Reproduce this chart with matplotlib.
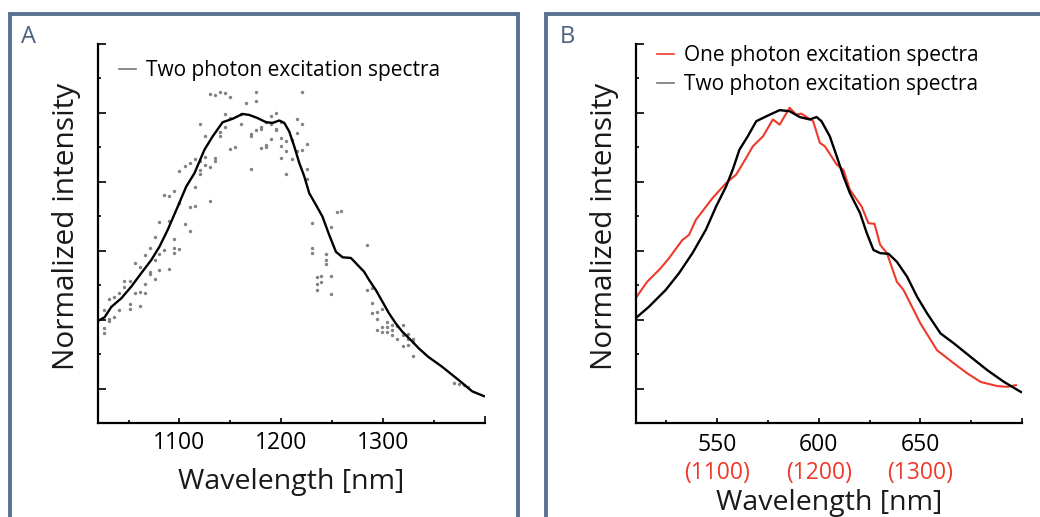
import numpy as np
import matplotlib
matplotlib.use('Agg')
import matplotlib.pyplot as plt
from matplotlib.lines import Line2D
from matplotlib.patches import Rectangle

plt.rcParams['font.family'] = ['Open Sans', 'DejaVu Sans']

# ---- data ----
# panel A, black two photon curve (nm, normalized)
tp_wl = [1021.6, 1026.5, 1033.1, 1042.9, 1052.7, 1062.5, 1072.3, 1080.4, 1088.5, 1098.3,
         1106.6, 1114.7, 1124.5, 1132.6, 1142.4, 1152.2, 1162.0, 1168.6, 1176.7, 1185.0,
         1191.4, 1198.0, 1202.9, 1207.8, 1212.7, 1217.6, 1222.5, 1227.4, 1234.0, 1240.4,
         1247.0, 1253.6, 1260.1, 1268.3, 1274.8, 1281.3, 1286.2, 1292.8, 1299.3, 1305.8,
         1312.4, 1318.8, 1327.1, 1335.2, 1344.3, 1358.0, 1374.4, 1387.4, 1398.9]
tp_int = [0.199, 0.207, 0.237, 0.262, 0.296, 0.335, 0.373, 0.412, 0.461, 0.528,
          0.586, 0.625, 0.693, 0.732, 0.773, 0.783, 0.797, 0.794, 0.785, 0.773,
          0.771, 0.778, 0.771, 0.746, 0.703, 0.655, 0.616, 0.567, 0.533, 0.499,
          0.446, 0.397, 0.381, 0.379, 0.359, 0.339, 0.315, 0.286, 0.252, 0.218,
          0.189, 0.165, 0.141, 0.116, 0.092, 0.063, 0.024, -0.008, -0.022]

# panel A, raw measurement points
pts_wl = [1026, 1026, 1026, 1031, 1031, 1031, 1036, 1036, 1041, 1041,
          1046, 1046, 1051, 1051, 1051, 1056, 1056, 1061, 1061, 1061,
          1066, 1066, 1066, 1071, 1071, 1071, 1076, 1076, 1076, 1080,
          1080, 1080, 1085, 1085, 1090, 1090, 1090, 1095, 1095, 1095,
          1095, 1100, 1100, 1100, 1105, 1105, 1110, 1110, 1110, 1115,
          1115, 1115, 1120, 1120, 1120, 1120, 1125, 1125, 1125, 1130,
          1130, 1130, 1135, 1135, 1135, 1140, 1140, 1140, 1145, 1145,
          1145, 1150, 1150, 1150, 1155, 1160, 1160, 1165, 1170, 1170,
          1170, 1175, 1175, 1175, 1180, 1180, 1180, 1185, 1185, 1185,
          1190, 1190, 1190, 1195, 1195, 1195, 1200, 1200, 1200, 1200,
          1205, 1205, 1205, 1210, 1210, 1215, 1215, 1215, 1220, 1220,
          1220, 1225, 1225, 1225, 1230, 1230, 1230, 1235, 1235, 1235,
          1239, 1239, 1244, 1244, 1244, 1249, 1249, 1249, 1255, 1259,
          1284, 1284, 1289, 1289, 1289, 1294, 1294, 1294, 1299, 1299,
          1299, 1304, 1304, 1304, 1309, 1309, 1309, 1314, 1314, 1319,
          1319, 1319, 1324, 1324, 1324, 1329, 1329, 1329, 1370, 1374,
          1379, 1383]
pts_int = [0.228, 0.175, 0.160, 0.261, 0.201, 0.195, 0.265, 0.207, 0.276, 0.227,
           0.311, 0.296, 0.311, 0.245, 0.232, 0.364, 0.276, 0.352, 0.279, 0.239,
           0.388, 0.303, 0.278, 0.407, 0.339, 0.333, 0.439, 0.373, 0.317, 0.482,
           0.391, 0.344, 0.561, 0.402, 0.559, 0.487, 0.348, 0.573, 0.435, 0.409,
           0.394, 0.632, 0.538, 0.404, 0.647, 0.478, 0.656, 0.528, 0.458, 0.666,
           0.586, 0.530, 0.768, 0.661, 0.635, 0.623, 0.732, 0.672, 0.648, 0.856,
           0.642, 0.545, 0.851, 0.668, 0.660, 0.861, 0.746, 0.734, 0.859, 0.796,
           0.759, 0.845, 0.784, 0.695, 0.701, 0.798, 0.769, 0.830, 0.738, 0.732,
           0.637, 0.862, 0.836, 0.749, 0.758, 0.754, 0.697, 0.774, 0.707, 0.701,
           0.790, 0.768, 0.724, 0.799, 0.753, 0.749, 0.773, 0.726, 0.705, 0.669,
           0.719, 0.689, 0.624, 0.721, 0.666, 0.783, 0.742, 0.689, 0.862, 0.768,
           0.691, 0.710, 0.637, 0.608, 0.481, 0.407, 0.393, 0.323, 0.304, 0.285,
           0.327, 0.309, 0.391, 0.373, 0.362, 0.470, 0.328, 0.274, 0.513, 0.514,
           0.418, 0.286, 0.291, 0.247, 0.218, 0.223, 0.202, 0.170, 0.232, 0.178,
           0.163, 0.193, 0.178, 0.163, 0.183, 0.169, 0.154, 0.182, 0.144, 0.184,
           0.154, 0.124, 0.159, 0.144, 0.125, 0.144, 0.136, 0.095, 0.016, 0.013,
           0.009, 0.005]

# panel B, two photon curve on half wavelength scale
tpb_wl = [509.8, 516.3, 524.6, 531.2, 537.8, 544.4, 549.4, 554.3, 557.6, 560.9,
          565.0, 569.2, 574.1, 580.7, 585.6, 590.6, 595.5, 598.9, 601.3, 605.4,
          608.8, 612.1, 615.3, 620.3, 623.6, 626.9, 630.2, 634.3, 638.4, 643.4,
          648.4, 653.3, 659.9, 666.5, 674.7, 683.0, 691.2, 699.5]
tpb_int = [0.204, 0.237, 0.286, 0.335, 0.393, 0.461, 0.528, 0.586, 0.635, 0.693,
           0.732, 0.776, 0.790, 0.808, 0.805, 0.788, 0.781, 0.788, 0.776, 0.732,
           0.674, 0.616, 0.567, 0.509, 0.451, 0.402, 0.393, 0.391, 0.368, 0.325,
           0.266, 0.218, 0.160, 0.131, 0.092, 0.053, 0.019, -0.010]

# panel B, one photon curve
op_wl = [509.8, 515.5, 522.1, 526.2, 532.8, 536.1, 539.5, 547.7, 554.3, 559.3,
         564.2, 567.5, 572.5, 577.4, 580.7, 585.6, 588.9, 591.4, 597.2, 600.5,
         603.0, 608.8, 612.1, 615.3, 621.1, 624.4, 627.4, 630.2, 633.5, 638.4,
         641.7, 650.0, 658.2, 666.5, 673.1, 679.7, 688.0, 692.9, 697.0]
op_int = [0.262, 0.310, 0.349, 0.378, 0.431, 0.446, 0.490, 0.553, 0.596, 0.621,
          0.669, 0.703, 0.732, 0.781, 0.766, 0.815, 0.795, 0.798, 0.776, 0.713,
          0.703, 0.650, 0.635, 0.577, 0.528, 0.480, 0.478, 0.417, 0.393, 0.310,
          0.286, 0.189, 0.111, 0.073, 0.044, 0.019, 0.007, 0.005, 0.010]

a_ticks = [1100, 1200, 1300]
b_ticks = [550, 600, 650]
b_ticks_2p = [1100, 1200, 1300]

red = '#ee3a2c'
frame_col = '#5b7292'


def style_axis(ax, xlim, major, minor):
    ax.set_xlim(xlim)
    ax.set_ylim(-0.1, 1.0)
    for s in ['top', 'right']:
        ax.spines[s].set_visible(False)
    for s in ['left', 'bottom']:
        ax.spines[s].set_linewidth(1.6)
    ax.set_xticks(list(major) + [xlim[1]])
    ax.set_xticklabels([str(v) for v in major] + [''])
    ax.set_xticks(minor, minor=True)
    ax.set_yticks([0, 0.2, 0.4, 0.6, 0.8, 1.0])
    ax.set_yticklabels([])
    ax.set_yticks([0.1, 0.3, 0.5, 0.7, 0.9], minor=True)
    ax.tick_params(axis='x', which='major', direction='in', length=3.8, width=1.2, labelsize=16.5, pad=6)
    ax.tick_params(axis='x', which='minor', direction='in', length=2.2, width=1.2)
    ax.tick_params(axis='y', which='major', direction='in', length=5.8, width=1.2)
    ax.tick_params(axis='y', which='minor', direction='in', length=2.5, width=1.2)
    ax.xaxis.get_major_ticks()[-1].tick1line.set_markersize(5.2)
    ax.set_ylabel('Normalized intensity', fontsize=21.5, color='#1a1a1a')
    ax.yaxis.set_label_coords(-0.043, 0.518)


fig = plt.figure(figsize=(10.4, 5.17), dpi=100)

# panel frames
fig.patches.append(Rectangle((10/1040, -0.1), 508/1040, 1.0729, transform=fig.transFigure,
                             fill=False, edgecolor=frame_col, linewidth=2.8))
fig.patches.append(Rectangle((546/1040, -0.1), 0.6, 1.0729, transform=fig.transFigure,
                             fill=False, edgecolor=frame_col, linewidth=2.8))
fig.text(21/1040, 1 - 43/517, 'A', fontsize=17, color='#4c6080', va='baseline')
fig.text(560/1040, 1 - 43/517, 'B', fontsize=17, color='#4c6080', va='baseline')

# panel A
axA = fig.add_axes([98/1040, 94/517, 387/1040, 379/517])
axA.scatter(pts_wl, pts_int, s=6, color='#828282', linewidths=0, zorder=2)
axA.plot(tp_wl, tp_int, color='black', lw=1.7, zorder=3)
style_axis(axA, (1020, 1400), a_ticks, [1050, 1150, 1250, 1350])
axA.set_xlabel('Wavelength [nm]', fontsize=20.5, labelpad=9, color='#1a1a1a')
axA.legend([Line2D([], [], color='#777777', lw=1.2)], ['Two photon excitation spectra'],
           loc='upper left', bbox_to_anchor=(0.054, 0.957), frameon=False, fontsize=15,
           handlelength=0.8, handletextpad=0.5, borderpad=0, borderaxespad=0)

# panel B
axB = fig.add_axes([636/1040, 94/517, 386/1040, 379/517])
axB.plot(op_wl, op_int, color=red, lw=1.5, zorder=2)
axB.plot(tpb_wl, tpb_int, color='black', lw=1.7, zorder=3)
style_axis(axB, (510, 700), b_ticks, [525, 575, 625, 675])
axB.tick_params(axis='x', which='major', pad=7)

sec = axB.secondary_xaxis(-0.1, functions=(lambda x: 2 * x, lambda x: x / 2))
sec.set_xticks(b_ticks_2p)
sec.set_xticklabels(['(%d)' % v for v in b_ticks_2p])
sec.tick_params(length=0, pad=0, labelsize=16.5, labelcolor=red)
sec.spines['bottom'].set_visible(False)
sec.set_xlabel('Wavelength [nm]', fontsize=20.5, labelpad=3, color='#1a1a1a')

axB.legend([Line2D([], [], color=red, lw=1.2), Line2D([], [], color='#777777', lw=1.2)],
           ['One photon excitation spectra', 'Two photon excitation spectra'],
           loc='upper left', bbox_to_anchor=(0.054, 0.997), frameon=False, fontsize=15,
           handlelength=0.8, handletextpad=0.5, borderpad=0, borderaxespad=0, labelspacing=0.38)

fig.savefig('out.png', dpi=100)
plt.close()
